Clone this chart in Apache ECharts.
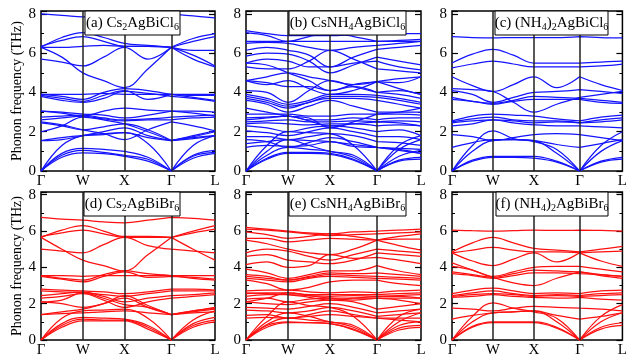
<!DOCTYPE html>
<html><head><meta charset="utf-8">
<script src="https://cdn.jsdelivr.net/npm/echarts@6/dist/echarts.min.js"></script>
<style>html,body{margin:0;padding:0;background:#fff}#c{width:630px;height:358px}</style>
</head><body><div id="c"></div>
<script>
// high-symmetry path
const kPathTicks = [0, 42, 84, 131, 175];
const kPathLabels = ['Γ', 'W', 'X', 'Γ', 'L'];
// sample positions along path: Γ, ΓW, W, WX, X, XΓ, Γ, ΓL, L
const sampleK = [0, 21, 42, 63, 84, 107.5, 131, 153, 175];
const yTicks = [0, 2, 4, 6, 8];

// (a) Cs2AgBiCl6
const bandsA = [
  [8.0, 7.93, 7.85, 7.8, 7.75, 7.85, 8.0, 7.9, 7.8],
  [6.3, 6.8, 7.05, 6.8, 6.5, 6.4, 6.3, 6.75, 7.0],
  [6.35, 6.65, 6.85, 6.6, 6.35, 6.35, 6.3, 6.6, 6.85],
  [6.3, 5.8, 5.0, 4.6, 4.25, 5.2, 6.3, 5.9, 5.35],
  [5.7, 5.55, 5.35, 5.8, 6.3, 5.7, 6.3, 6.15, 6.15],
  [6.3, 6.3, 6.35, 6.4, 6.35, 6.35, 6.3, 5.7, 5.3],
  [3.9, 3.9, 3.9, 3.95, 3.9, 3.9, 3.9, 3.9, 3.9],
  [3.85, 3.7, 3.55, 3.85, 4.1, 3.65, 3.9, 3.85, 3.85],
  [3.9, 3.8, 3.65, 4.0, 4.2, 4.1, 3.9, 3.75, 3.6],
  [3.8, 3.6, 3.5, 3.7, 4.05, 3.95, 3.8, 3.7, 3.55],
  [3.05, 3.0, 2.9, 2.85, 2.7, 2.85, 3.05, 3.05, 3.0],
  [3.05, 2.95, 2.8, 3.05, 3.2, 3.1, 3.05, 2.95, 2.8],
  [2.75, 2.8, 2.85, 2.7, 2.6, 2.65, 2.75, 2.8, 2.85],
  [2.6, 2.7, 2.8, 2.65, 2.55, 2.6, 2.6, 2.7, 2.75],
  [2.45, 2.3, 2.1, 2.25, 2.4, 2.1, 1.55, 1.8, 2.05],
  [2.0, 2.3, 2.75, 2.6, 2.4, 2.0, 1.55, 1.75, 2.0],
  [1.55, 1.7, 1.8, 1.85, 1.95, 1.7, 1.55, 1.65, 1.8],
  [1.55, 1.6, 1.8, 2.0, 2.2, 1.8, 1.55, 1.7, 1.8],
  [2.5, 2.35, 2.1, 1.9, 1.6, 2.1, 2.5, 2.3, 2.05],
  [0, 1.3, 1.8, 1.9, 1.95, 1.4, 0, 1.3, 1.8],
  [0, 0.9, 1.15, 1.1, 1.0, 0.7, 0, 0.8, 1.05],
  [0, 0.8, 1.05, 0.95, 0.8, 0.6, 0, 0.75, 0.95],
  [0, 0.7, 0.92, 0.88, 0.75, 0.5, 0, 0.65, 0.9]
];

// (b) CsNH4AgBiCl6
const bandsB = [
  [7.15, 7.0, 6.9, 6.9, 6.9, 6.95, 7.0, 7.0, 7.0],
  [7.05, 6.9, 6.6, 6.85, 7.0, 6.85, 6.6, 6.65, 6.7],
  [6.6, 6.6, 6.6, 6.6, 6.6, 6.6, 6.6, 6.6, 6.6],
  [6.5, 6.55, 6.5, 6.3, 6.15, 6.3, 6.4, 6.5, 6.6],
  [6.15, 6.3, 6.15, 5.9, 5.3, 5.8, 6.2, 6.3, 6.4],
  [5.85, 6.0, 5.95, 5.6, 5.0, 5.4, 5.8, 5.6, 5.4],
  [5.5, 5.7, 5.6, 5.3, 5.3, 5.5, 5.6, 5.3, 5.15],
  [5.3, 5.2, 5.2, 5.6, 6.15, 5.7, 5.2, 5.1, 5.0],
  [4.6, 4.8, 5.0, 4.8, 4.6, 4.4, 4.55, 4.7, 4.8],
  [4.6, 4.5, 4.3, 4.3, 4.1, 4.4, 4.55, 4.2, 3.9],
  [4.1, 4.0, 3.5, 4.1, 4.6, 4.3, 4.0, 3.9, 3.7],
  [3.9, 3.7, 3.4, 3.6, 3.9, 3.9, 3.85, 3.7, 3.5],
  [3.8, 3.6, 3.3, 3.5, 3.8, 3.8, 3.75, 3.6, 3.4],
  [3.7, 3.5, 3.2, 3.5, 3.7, 3.7, 3.6, 3.4, 3.2],
  [3.6, 3.4, 3.0, 3.3, 3.6, 3.3, 3.0, 3.0, 3.0],
  [2.9, 2.9, 2.9, 2.8, 2.8, 2.9, 2.9, 2.9, 2.85],
  [2.7, 2.75, 2.8, 2.6, 2.6, 2.7, 2.6, 2.7, 2.7],
  [2.5, 2.55, 2.6, 2.5, 2.5, 2.55, 2.5, 2.55, 2.5],
  [2.4, 2.45, 2.4, 2.35, 2.4, 2.4, 2.3, 2.35, 2.3],
  [2.3, 2.2, 2.0, 2.2, 2.3, 2.2, 2.0, 2.1, 1.8],
  [2.05, 1.95, 1.8, 2.0, 2.2, 2.0, 1.75, 1.75, 1.6],
  [1.75, 1.75, 1.6, 1.75, 1.9, 1.8, 1.5, 1.45, 1.3],
  [1.6, 1.5, 1.2, 1.45, 1.7, 1.5, 1.2, 1.15, 1.1],
  [1.4, 1.5, 1.6, 1.55, 1.5, 1.35, 1.2, 1.1, 0.9],
  [1.2, 1.3, 1.25, 1.3, 1.5, 1.25, 1.2, 1.05, 0.9],
  [0, 1.3, 2.0, 1.95, 1.9, 1.3, 0, 1.3, 1.8],
  [0, 1.0, 1.6, 1.3, 1.0, 0.8, 0, 1.1, 1.6],
  [0, 0.65, 0.95, 0.95, 0.9, 0.6, 0, 0.55, 0.7],
  [0, 0.6, 0.9, 0.9, 0.85, 0.55, 0, 0.5, 0.6],
  [0, 0.8, 1.2, 1.1, 1.0, 0.7, 0, 0.75, 1.05],
  [2.6, 2.7, 2.8, 2.55, 2.3, 2.4, 2.5, 2.45, 2.3],
  [3.2, 3.0, 2.8, 2.7, 2.2, 2.5, 2.9, 3.0, 3.2],
  [4.6, 4.4, 4.6, 4.2, 3.9, 4.1, 4.55, 4.5, 4.8],
  [5.5, 5.4, 5.0, 4.6, 4.1, 4.3, 4.0, 4.1, 3.9]
];

// (c) (NH4)2AgBiCl6
const bandsC = [
  [6.85, 6.8, 6.78, 6.8, 6.8, 6.8, 6.85, 6.8, 6.78],
  [5.5, 5.95, 6.2, 5.9, 5.5, 5.5, 5.5, 5.55, 5.6],
  [5.25, 5.45, 5.6, 5.45, 5.3, 5.3, 5.3, 5.35, 5.45],
  [4.8, 4.35, 4.05, 4.4, 4.8, 4.25, 4.8, 4.4, 4.1],
  [4.2, 4.15, 4.05, 3.5, 3.0, 3.4, 3.75, 3.9, 4.05],
  [4.1, 3.9, 3.5, 3.75, 4.0, 4.05, 4.15, 4.05, 3.95],
  [3.75, 3.55, 3.45, 3.6, 3.8, 3.75, 3.7, 3.6, 3.5],
  [3.65, 3.55, 3.4, 3.55, 3.65, 3.65, 3.65, 3.5, 3.45],
  [2.55, 2.8, 2.9, 2.85, 2.8, 2.65, 2.55, 2.75, 2.85],
  [2.5, 2.65, 2.75, 2.6, 2.55, 2.55, 2.45, 2.6, 2.7],
  [2.45, 2.55, 2.6, 2.55, 2.45, 2.5, 2.45, 2.5, 2.6],
  [2.3, 2.4, 2.6, 2.45, 2.35, 2.3, 2.3, 2.25, 2.2],
  [1.85, 1.75, 1.55, 1.7, 1.85, 1.9, 1.85, 1.7, 1.55],
  [1.2, 1.45, 1.6, 1.6, 1.55, 1.35, 1.2, 1.4, 1.6],
  [0, 1.3, 2.05, 1.65, 1.5, 1.1, 0, 1.3, 2.0],
  [0, 1.0, 1.55, 1.6, 1.55, 0.9, 0, 1.0, 1.55],
  [0, 0.55, 0.75, 0.75, 0.75, 0.5, 0, 0.5, 0.7],
  [0, 0.5, 0.7, 0.7, 0.65, 0.45, 0, 0.45, 0.6]
];

// (d) Cs2AgBiBr6
const bandsD = [
  [6.75, 6.65, 6.6, 6.5, 6.45, 6.6, 6.75, 6.7, 6.6],
  [5.65, 6.05, 6.3, 6.0, 5.7, 5.7, 5.65, 6.0, 6.3],
  [5.7, 5.9, 6.05, 5.85, 5.65, 5.65, 5.65, 5.9, 6.1],
  [5.65, 5.0, 4.4, 4.1, 3.8, 4.7, 5.65, 5.0, 4.4],
  [5.0, 4.9, 4.8, 5.25, 5.65, 5.2, 5.0, 4.9, 4.8],
  [3.55, 3.55, 3.5, 3.55, 3.55, 3.55, 3.55, 3.55, 3.55],
  [3.5, 3.35, 3.2, 3.5, 3.75, 3.45, 3.5, 3.45, 3.35],
  [3.55, 3.4, 3.3, 3.6, 3.8, 3.65, 3.55, 3.4, 3.3],
  [2.8, 2.75, 2.7, 2.65, 2.55, 2.65, 2.8, 2.8, 2.75],
  [2.7, 2.65, 2.6, 2.5, 2.4, 2.55, 2.7, 2.7, 2.7],
  [2.45, 2.55, 2.65, 2.4, 2.1, 2.3, 2.45, 2.5, 2.6],
  [2.3, 2.4, 2.55, 2.2, 1.8, 2.1, 2.3, 2.4, 2.5],
  [2.1, 2.0, 1.8, 2.0, 2.45, 1.9, 1.4, 1.6, 1.8],
  [1.4, 1.55, 1.7, 2.0, 2.3, 1.8, 1.4, 1.55, 1.7],
  [1.4, 1.45, 1.5, 1.55, 1.6, 1.5, 1.4, 1.5, 1.55],
  [2.1, 2.2, 2.6, 2.3, 1.95, 1.8, 1.4, 1.6, 1.75],
  [0, 1.2, 1.6, 1.65, 1.7, 1.2, 0, 1.1, 1.6],
  [0, 0.9, 1.25, 1.2, 1.15, 0.8, 0, 0.9, 1.25],
  [0, 0.8, 1.15, 1.1, 1.1, 0.7, 0, 0.8, 1.1],
  [0, 0.7, 1.05, 1.05, 1.05, 0.6, 0, 0.7, 1.0]
];

// (e) CsNH4AgBiBr6
const bandsE = [
  [6.2, 6.1, 6.0, 5.9, 5.85, 5.95, 6.0, 6.05, 6.1],
  [6.1, 6.05, 5.95, 5.85, 5.75, 5.8, 5.85, 5.9, 5.95],
  [5.95, 5.8, 5.6, 5.7, 5.85, 5.7, 5.5, 5.7, 5.85],
  [5.6, 5.6, 5.4, 5.5, 5.6, 5.55, 5.5, 5.55, 5.55],
  [5.5, 5.3, 5.0, 4.8, 4.7, 5.0, 5.5, 5.2, 4.95],
  [4.8, 5.0, 4.9, 4.6, 4.4, 4.7, 5.0, 4.9, 4.8],
  [4.6, 4.7, 4.4, 4.3, 4.2, 4.4, 4.8, 4.7, 4.6],
  [4.15, 4.3, 4.0, 4.1, 4.7, 4.5, 4.55, 4.4, 4.2],
  [3.9, 3.7, 3.4, 3.6, 3.8, 3.8, 4.1, 3.8, 3.6],
  [3.6, 3.5, 3.3, 3.5, 3.7, 3.65, 3.7, 3.6, 3.5],
  [3.5, 3.4, 3.3, 3.45, 3.6, 3.55, 3.5, 3.45, 3.4],
  [3.4, 3.3, 3.2, 3.4, 3.5, 3.45, 3.4, 3.35, 3.3],
  [3.3, 3.1, 2.75, 2.9, 3.2, 3.3, 3.3, 3.1, 3.0],
  [2.7, 2.75, 2.75, 2.65, 2.6, 2.65, 2.6, 2.7, 2.75],
  [2.55, 2.6, 2.6, 2.5, 2.5, 2.5, 2.5, 2.55, 2.6],
  [2.4, 2.5, 2.5, 2.45, 2.4, 2.45, 2.4, 2.45, 2.5],
  [2.25, 2.3, 2.1, 2.25, 2.3, 2.3, 2.3, 2.3, 2.3],
  [2.1, 2.0, 1.95, 2.1, 2.2, 2.1, 1.7, 1.85, 2.0],
  [1.8, 1.75, 1.7, 1.85, 2.0, 1.8, 1.5, 1.6, 1.7],
  [1.65, 1.6, 1.5, 1.6, 1.8, 1.6, 1.3, 1.4, 1.5],
  [1.35, 1.4, 1.2, 1.4, 1.6, 1.4, 1.2, 1.2, 1.2],
  [1.2, 1.25, 1.2, 1.3, 1.4, 1.3, 1.2, 1.1, 1.0],
  [2.6, 2.55, 2.5, 2.35, 2.2, 2.3, 2.4, 2.4, 2.3],
  [2.1, 2.3, 2.6, 2.45, 2.3, 2.2, 2.3, 2.2, 2.0],
  [0, 1.3, 2.1, 1.9, 1.8, 1.3, 0, 1.3, 1.7],
  [0, 1.0, 1.5, 1.3, 1.0, 0.8, 0, 1.0, 1.5],
  [0, 0.8, 1.0, 0.95, 0.9, 0.6, 0, 0.65, 0.8],
  [0, 0.7, 0.95, 0.95, 0.9, 0.55, 0, 0.55, 0.7],
  [0, 0.85, 1.2, 1.1, 1.0, 0.7, 0, 0.8, 1.0]
];

// (f) (NH4)2AgBiBr6
const bandsF = [
  [6.05, 6.02, 6.0, 6.02, 6.05, 6.03, 6.05, 6.03, 6.0],
  [4.85, 5.35, 5.65, 5.35, 5.05, 4.95, 4.85, 5.0, 5.15],
  [4.8, 4.95, 5.1, 4.95, 4.85, 4.85, 4.8, 4.85, 4.9],
  [4.8, 4.35, 4.1, 4.45, 4.8, 4.3, 4.8, 4.35, 4.05],
  [4.25, 3.85, 3.45, 3.15, 3.0, 3.4, 3.75, 3.6, 3.5],
  [4.05, 3.85, 3.5, 3.75, 4.0, 4.05, 4.05, 3.9, 3.75],
  [3.75, 3.6, 3.45, 3.65, 3.85, 3.8, 3.75, 3.55, 3.4],
  [3.65, 3.55, 3.4, 3.55, 3.7, 3.7, 3.65, 3.6, 3.5],
  [2.55, 2.75, 2.85, 2.7, 2.55, 2.6, 2.55, 2.7, 2.75],
  [2.45, 2.6, 2.7, 2.55, 2.45, 2.5, 2.45, 2.55, 2.6],
  [2.4, 2.5, 2.55, 2.5, 2.4, 2.45, 2.4, 2.45, 2.5],
  [2.35, 2.4, 2.5, 2.4, 2.35, 2.3, 2.35, 2.25, 2.2],
  [1.75, 1.7, 1.6, 1.75, 1.85, 1.8, 1.75, 1.7, 1.6],
  [1.15, 1.35, 1.5, 1.55, 1.6, 1.35, 1.15, 1.3, 1.5],
  [0, 1.3, 2.05, 1.75, 1.55, 1.2, 0, 1.3, 1.95],
  [0, 1.0, 1.5, 1.55, 1.6, 1.0, 0, 1.0, 1.5],
  [0, 0.75, 1.0, 1.0, 1.0, 0.7, 0, 0.7, 0.95],
  [0, 0.7, 0.95, 0.95, 0.95, 0.65, 0, 0.6, 0.8]
];

const titleA = '(a) Cs{s|2}AgBiCl{s|6}';
const titleB = '(b) CsNH{s|4}AgBiCl{s|6}';
const titleC = '(c) (NH{s|4}){s|2}AgBiCl{s|6}';
const titleD = '(d) Cs{s|2}AgBiBr{s|6}';
const titleE = '(e) CsNH{s|4}AgBiBr{s|6}';
const titleF = '(f) (NH{s|4}){s|2}AgBiBr{s|6}';
const yAxisTitle = 'Phonon frequency (THz)';

const BLUE = '#1414ff', RED = '#ff1010';
const FONT = 'Liberation Serif';
const YMAX = 8.15;

const panels = [
  {bands: bandsA, title: titleA, color: BLUE, left: 41, top: 11, width: 174, height: 160, box: [85, 11, 95, 24], yName: true},
  {bands: bandsB, title: titleB, color: BLUE, left: 246, top: 11, width: 175, height: 160, box: [289, 11, 117, 24]},
  {bands: bandsC, title: titleC, color: BLUE, left: 452, top: 11, width: 176, height: 160, box: [495, 11, 113, 24]},
  {bands: bandsD, title: titleD, color: RED, left: 41, top: 192, width: 174, height: 152, box: [84, 192, 96, 24], yName: true},
  {bands: bandsE, title: titleE, color: RED, left: 246, top: 192, width: 175, height: 152, box: [289, 192, 117, 24]},
  {bands: bandsF, title: titleF, color: RED, left: 452, top: 192, width: 176, height: 152, box: [496, 192, 112, 24]}
];

function bandToData(vals) {
  const d = [];
  for (let i = 0; i <= 6; i++) d.push([sampleK[i], vals[i]]);
  d.push([sampleK[6], '-']);
  for (let i = 6; i < sampleK.length; i++) d.push([sampleK[i], vals[i]]);
  return d;
}

const grid = [], xAxis = [], yAxis = [], series = [], graphic = [];
panels.forEach((p, i) => {
  grid.push({left: p.left, top: p.top, width: p.width, height: p.height, show: true,
    borderColor: '#000', borderWidth: 1.5, backgroundColor: 'transparent', containLabel: false});
  xAxis.push({type: 'value', gridIndex: i, min: kPathTicks[0], max: kPathTicks[kPathTicks.length - 1],
    axisLine: {show: false}, splitLine: {show: false},
    axisTick: {show: false},
    axisLabel: {customValues: kPathTicks, fontFamily: FONT, fontSize: 15, color: '#000', margin: 3,
      formatter: v => { const k = kPathTicks.indexOf(v); return k >= 0 ? kPathLabels[k] : ''; }}
  });
  const yCommon = {type: 'value', gridIndex: i, min: 0, max: YMAX, interval: 2,
    splitLine: {show: false}, axisLine: {show: false},
    axisTick: {show: true, inside: true, length: 6, lineStyle: {color: '#000', width: 1.2}},
    minorTick: {show: true, splitNumber: 2, length: 3, lineStyle: {color: '#000', width: 1}}
  };
  yAxis.push(Object.assign({}, yCommon, {position: 'left',
    axisLabel: {fontFamily: FONT, fontSize: 15, color: '#000', margin: 5,
      formatter: v => (yTicks.indexOf(v) >= 0 ? String(v) : '')},
    name: p.yName ? yAxisTitle : '', nameLocation: 'middle', nameGap: 16,
    nameTextStyle: {fontFamily: FONT, fontSize: 14, color: '#000'}
  }));
  yAxis.push(Object.assign({}, yCommon, {position: 'right', axisLabel: {show: false}}));
  p.bands.forEach((b, j) => {
    const s = {type: 'line', xAxisIndex: i, yAxisIndex: 2 * i, data: bandToData(b),
      smooth: 0.4, showSymbol: false, symbol: 'none', connectNulls: false, silent: true,
      lineStyle: {color: p.color, width: 1.25}, z: 3};
    if (j === 0) {
      s.markLine = {silent: true, symbol: 'none', label: {show: false},
        lineStyle: {color: '#222', width: 1.5, type: 'solid'},
        data: kPathTicks.slice(1, -1).map(v => ({xAxis: v}))};
    }
    series.push(s);
  });
  const [bx, by, bw, bh] = p.box;
  graphic.push({type: 'rect', z: 100, shape: {x: bx, y: by, width: bw, height: bh},
    style: {fill: '#fff', stroke: '#000', lineWidth: 1}});
  graphic.push({type: 'text', z: 101, x: bx + bw / 2, y: by + bh / 2,
    style: {text: p.title, fontFamily: FONT, fontSize: 15, fill: '#000', align: 'center', verticalAlign: 'middle',
      lineHeight: 18,
      rich: {s: {fontFamily: FONT, fontSize: 10, fill: '#000', lineHeight: 10, padding: [8, 0, 0, 0]}}}});
});

const chart = echarts.init(document.getElementById('c'), null, {renderer: 'canvas'});
chart.setOption({animation: false, backgroundColor: '#fff', grid, xAxis, yAxis, series, graphic});
</script></body></html>
